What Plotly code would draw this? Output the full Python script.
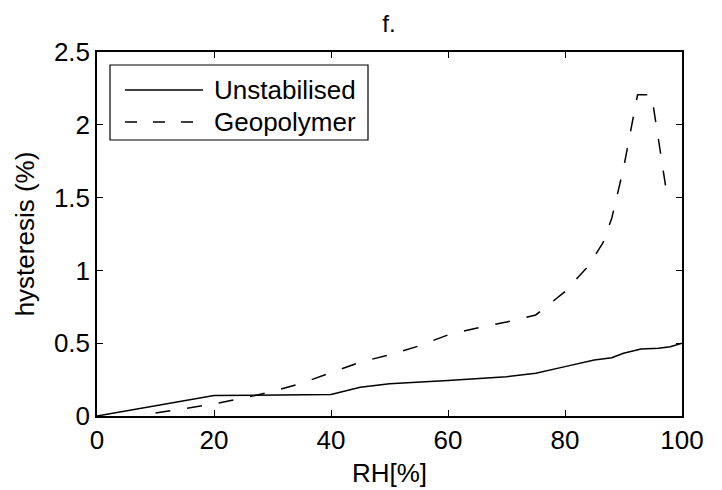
import plotly.graph_objects as go

# ---- data ----
rh_unstab = [0, 20, 40, 45, 50, 60, 70, 75, 80, 85, 88, 90, 93, 96, 98, 100]
hys_unstab = [0, 0.14, 0.148, 0.197, 0.222, 0.243, 0.27, 0.293, 0.339, 0.385,
              0.40, 0.431, 0.46, 0.466, 0.476, 0.50]

rh_geo = [10, 15, 20, 25, 30, 35, 40, 45, 50, 55, 60, 65, 70, 75, 80, 84,
          86.5, 88, 90, 92.4, 94.8, 97.5]
hys_geo = [0.02, 0.051, 0.083, 0.123, 0.168, 0.225, 0.298, 0.37, 0.42, 0.481,
           0.557, 0.605, 0.645, 0.694, 0.854, 1.03, 1.19, 1.36, 1.70, 2.206,
           2.206, 1.50]

series_names = ["Unstabilised", "Geopolymer"]
x_ticks = [0, 20, 40, 60, 80, 100]
y_ticks = [0, 0.5, 1, 1.5, 2, 2.5]
title_text = "f."
x_title = "RH[%]"
y_title = "hysteresis (%)"

FONT = "Arial, 'Liberation Sans', Helvetica, sans-serif"
FS = 26

fig = go.Figure()
fig.add_trace(go.Scatter(x=rh_unstab, y=hys_unstab, mode="lines",
                         name=series_names[0], showlegend=False,
                         line=dict(color="black", width=1.5)))
fig.add_trace(go.Scatter(x=rh_geo, y=hys_geo, mode="lines",
                         name=series_names[1], showlegend=False,
                         line=dict(color="black", width=1.5, dash="15px,17px")))

# page has an 8px body margin; figure is sized so the plot area lands at
# page pixels x 97..682, y 52..416
OFF = 8
W, H = 714, 482
L, R, T, B = 89, 40, 44, 74
pw, ph = W - L - R, H - T - B

def px(xpage):
    return (xpage - OFF - L) / pw

def py(ypage):
    return (H - B - (ypage - OFF)) / ph

shapes = [
    dict(type="rect", xref="paper", yref="paper",
         x0=px(110), x1=px(368), y0=py(140), y1=py(65),
         line=dict(color="black", width=1.2), fillcolor="white", layer="above"),
    dict(type="line", xref="paper", yref="paper",
         x0=px(125), x1=px(203), y0=py(90), y1=py(90),
         line=dict(color="black", width=1.5), layer="above"),
    dict(type="line", xref="paper", yref="paper",
         x0=px(125), x1=px(203), y0=py(122), y1=py(122),
         line=dict(color="black", width=1.5, dash="12px,16px"), layer="above"),
]
annotations = [
    dict(text=series_names[0], xref="paper", yref="paper", x=px(212), y=py(90),
         xanchor="left", yanchor="middle", showarrow=False,
         font=dict(family=FONT, size=FS, color="black")),
    dict(text=series_names[1], xref="paper", yref="paper", x=px(212), y=py(122),
         xanchor="left", yanchor="middle", showarrow=False,
         font=dict(family=FONT, size=FS, color="black")),
]

fig.update_layout(
    width=W, height=H,
    margin=dict(l=L, r=R, t=T, b=B, autoexpand=False),
    paper_bgcolor="white", plot_bgcolor="white",
    font=dict(family=FONT, size=FS, color="black"),
    title=dict(text=title_text, x=(389 - OFF) / W, xref="container",
               y=1 - (24 - OFF) / H, yref="container", xanchor="center",
               yanchor="middle", font=dict(family=FONT, size=24, color="black")),
    shapes=shapes, annotations=annotations,
    showlegend=False,
)
fig.update_xaxes(range=[0, 100], tickvals=x_ticks, ticks="inside", ticklen=6,
                 tickcolor="black", tickwidth=1, showline=True, linecolor="black",
                 linewidth=1.5, mirror="ticks", showgrid=False, zeroline=False,
                 tickfont=dict(family=FONT, size=FS), automargin=False,
                 title=dict(text=x_title, standoff=10, font=dict(family=FONT, size=FS)))
fig.update_yaxes(range=[0, 2.5], tickvals=y_ticks, ticks="inside", ticklen=6,
                 tickcolor="black", tickwidth=1, showline=True, linecolor="black",
                 linewidth=1.5, mirror="ticks", showgrid=False, zeroline=False,
                 tickfont=dict(family=FONT, size=FS), automargin=False,
                 title=dict(text=y_title, standoff=12, font=dict(family=FONT, size=FS)))

fig.write_html("out.html")
